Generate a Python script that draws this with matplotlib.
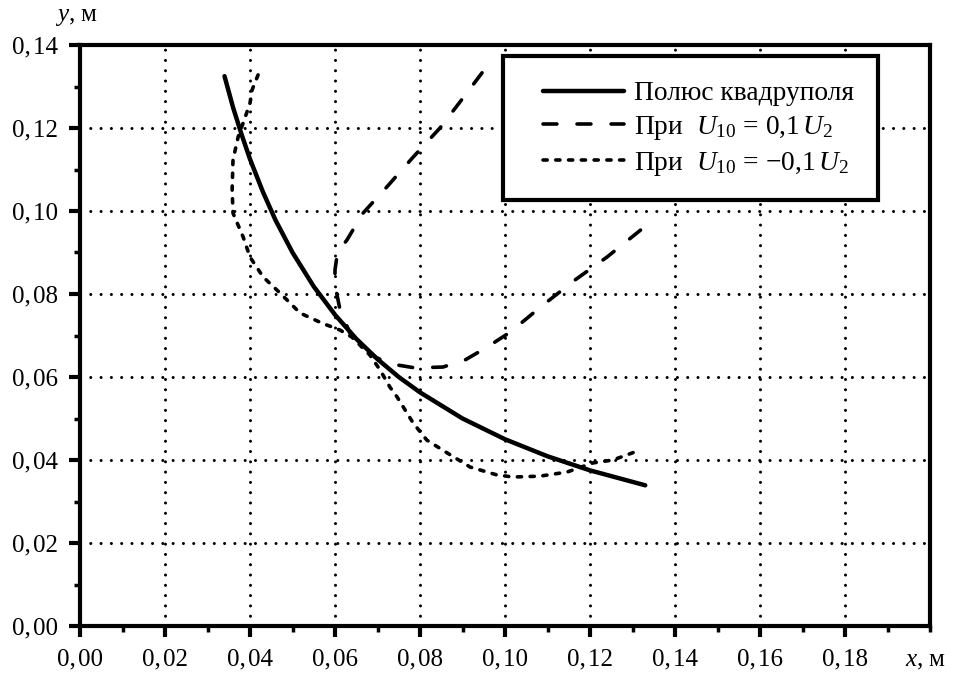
import matplotlib
matplotlib.use("Agg")
import matplotlib.pyplot as plt
from matplotlib.ticker import MultipleLocator, FuncFormatter
from matplotlib.patches import Rectangle

# ---- data ----
pole_x = [0.034, 0.036, 0.038, 0.040, 0.043, 0.046, 0.050, 0.055, 0.060, 0.065,
          0.070, 0.075, 0.080, 0.090, 0.100, 0.110, 0.120, 0.133]
pole_y = [0.1325, 0.125, 0.1185, 0.1125, 0.1047, 0.0978, 0.090, 0.0818, 0.075, 0.0692,
          0.0643, 0.060, 0.0563, 0.050, 0.045, 0.0409, 0.0375, 0.0339]

pos_x = [0.0946, 0.0901, 0.0847, 0.0784, 0.0722, 0.0666, 0.0628, 0.0619, 0.0605, 0.0600,
         0.0600, 0.0612, 0.0635, 0.0694, 0.0734, 0.0788, 0.0854, 0.0906, 0.0958, 0.1012,
         0.1089, 0.1165, 0.1240, 0.1325]
pos_y = [0.1333, 0.1272, 0.1200, 0.1130, 0.1058, 0.0995, 0.0930, 0.0918, 0.0894, 0.0858,
         0.0822, 0.0761, 0.0706, 0.0648, 0.0631, 0.0622, 0.0624, 0.0641, 0.0672, 0.0708,
         0.0773, 0.0834, 0.0889, 0.0959]

neg_x = [0.0419, 0.0405, 0.0400, 0.0388, 0.0372, 0.0360, 0.0358, 0.0360, 0.0384, 0.0400,
         0.0431, 0.0471, 0.0518, 0.0569, 0.0612, 0.0640, 0.0682, 0.0706, 0.0729, 0.0746,
         0.0784, 0.0816, 0.0864, 0.0918, 0.0981, 0.1019, 0.1082, 0.1146, 0.1207, 0.1254,
         0.1318]
neg_y = [0.1328, 0.1292, 0.1260, 0.1224, 0.1178, 0.1123, 0.1051, 0.0995, 0.0937, 0.0889,
         0.0841, 0.0802, 0.0754, 0.0730, 0.0713, 0.0696, 0.0653, 0.0617, 0.0576, 0.0552,
         0.0489, 0.0448, 0.0417, 0.0383, 0.0364, 0.0359, 0.0361, 0.0371, 0.0393, 0.0400,
         0.0424]

x_ticks = [0.00, 0.02, 0.04, 0.06, 0.08, 0.10, 0.12, 0.14, 0.16, 0.18]
y_ticks = [0.00, 0.02, 0.04, 0.06, 0.08, 0.10, 0.12, 0.14]

labels = ["Полюс квадруполя",
          r"При  $U_{10}$ = 0,1$\,U_2$",
          r"При  $U_{10}$ = −0,1$\,U_2$"]

plt.rcParams['font.family'] = ['Liberation Serif', 'DejaVu Serif']
plt.rcParams['mathtext.fontset'] = 'custom'
plt.rcParams['mathtext.rm'] = 'Liberation Serif'
plt.rcParams['mathtext.it'] = 'Liberation Serif:italic'
plt.rcParams['mathtext.bf'] = 'Liberation Serif:bold'
plt.rcParams['lines.scale_dashes'] = False

fig = plt.figure(figsize=(9.57, 6.75), dpi=100)
ax = fig.add_axes([80/957, 49/675, 850/957, 581/675])

ax.plot(pole_x, pole_y, color='black', lw=3.2, solid_capstyle='round',
        solid_joinstyle='round', label=labels[0], zorder=3)
ax.plot(pos_x, pos_y, color='black', lw=2.6, linestyle=(0, (10.0, 14.5)),
        dash_capstyle='round', label=labels[1], zorder=3)
ax.plot(neg_x, neg_y, color='black', lw=2.6, linestyle=(0, (3.0, 6.2)),
        dash_capstyle='round', label=labels[2], zorder=3)

ax.set_xticks(x_ticks)
ax.set_yticks(y_ticks)
ax.xaxis.set_minor_locator(MultipleLocator(0.01))
ax.yaxis.set_minor_locator(MultipleLocator(0.01))
ax.set_xlim(0, 0.2)
ax.set_ylim(0, 0.14)

fmt = FuncFormatter(lambda v, p: f"{v:.2f}".replace('.', ',\u200a'))
ax.xaxis.set_major_formatter(fmt)
ax.yaxis.set_major_formatter(fmt)

ax.grid(True, which='major', color='black', lw=2.2, linestyle=(0, (0.01, 7.4)),
        dash_capstyle='round')
ax.set_axisbelow(True)

for s in ax.spines.values():
    s.set_linewidth(3.0)
ax.tick_params(which='major', direction='out', length=8, width=3.0,
               labelsize=18, pad=8)
ax.tick_params(which='minor', direction='out', length=4, width=2.5)
ax.tick_params(top=False, right=False, which='both')

fig.text(55/957, 1 - 17/675, "$y$, м", fontsize=18, ha='left', va='center')
fig.text(905/957, 1 - 661/675, "$x$, м", fontsize=18, ha='left', va='center')

# legend box (frame drawn separately)
box = Rectangle(((503-80)/850, (626-200)/581), 375/850, 144/581,
                transform=ax.transAxes, facecolor='white', edgecolor='black',
                lw=3.0, zorder=4, clip_on=False)
ax.add_patch(box)

leg = ax.legend(loc='upper left', bbox_to_anchor=((543-80)/850, (626-81)/581),
                fontsize=19.8, frameon=False, handlelength=2.95,
                borderpad=0.0, labelspacing=0.28, handletextpad=0.37,
                borderaxespad=0.0)
leg.set_zorder(5)

fig.savefig("out.png", dpi=100)
